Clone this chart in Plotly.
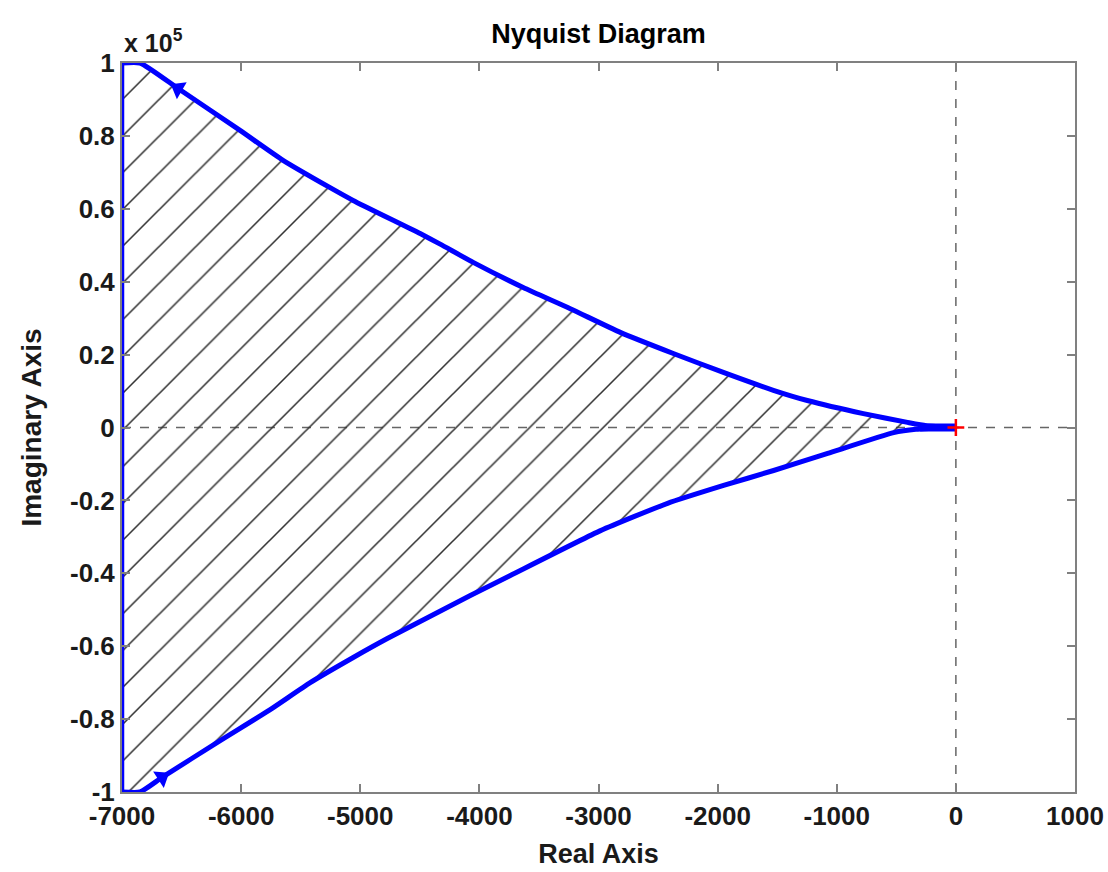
import plotly.graph_objects as go

# Upper branch (real, imaginary)
upper_re = [-7000, -6849, -6529, -6009, -5648, -5253, -5060, -4497, -4329, -4052, -3632, -3237,
            -2817, -2372, -1952, -1532, -1247, -776, -406, -250, 0]
upper_im = [100000, 100000, 93000, 81500, 73300, 65800, 62300, 53200, 50300, 45300, 38400, 32600,
            26100, 20300, 15100, 10200, 7400, 3800, 1400, 500, 0]
# Lower branch
lower_re = [-7000, -6849, -6664, -6176, -5756, -5420, -5059, -4773, -4076, -3740, -2983, -2420,
            -1950, -1530, -1076, -522, -336, 0]
lower_im = [-100000, -100000, -96000, -85900, -77400, -70000, -63100, -57900, -46100, -40600, -28300, -20800,
            -15900, -11800, -7100, -1400, -500, 0]

x_ticks = [-7000, -6000, -5000, -4000, -3000, -2000, -1000, 0, 1000]
x_tick_text = ["-7000", "-6000", "-5000", "-4000", "-3000", "-2000", "-1000", "0", "1000"]
y_ticks = [-100000, -80000, -60000, -40000, -20000, 0, 20000, 40000, 60000, 80000, 100000]
y_tick_text = ["-1", "-0.8", "-0.6", "-0.4", "-0.2", "0", "0.2", "0.4", "0.6", "0.8", "1"]

# Arrow markers
arrow_re = [-6529, -6664]
arrow_im = [93000, -96000]
arrow_angle = [-60, 57]

BLUE = "#0000FF"
FONT = "Liberation Sans"
TXT = "#1a1a1a"
SMOOTH = 0.5

fig = go.Figure()

# hatched region between the two branches
fig.add_trace(go.Scatter(x=lower_re, y=lower_im, mode="lines",
                         line=dict(width=0, color="rgba(0,0,0,0)", shape="spline", smoothing=SMOOTH),
                         hoverinfo="skip", showlegend=False))
fig.add_trace(go.Scatter(
    x=upper_re, y=upper_im, mode="lines", fill="tonexty",
    line=dict(width=0, color="rgba(0,0,0,0)", shape="spline", smoothing=SMOOTH),
    fillcolor="rgba(0,0,0,0)",
    fillpattern=dict(shape="/", size=26, solidity=0.06, fgcolor="#303030", fgopacity=1,
                     bgcolor="rgba(0,0,0,0)"),
    hoverinfo="skip", showlegend=False))

# zero dashed lines
fig.add_shape(type="line", x0=-7000, x1=1000, y0=0, y1=0, line=dict(color="#666666", width=1.5, dash="dash"), layer="below")
fig.add_shape(type="line", x0=0, x1=0, y0=-100000, y1=100000, line=dict(color="#666666", width=1.5, dash="dash"), layer="below")

# curves
fig.add_trace(go.Scatter(x=upper_re, y=upper_im, mode="lines",
                         line=dict(color=BLUE, width=5, shape="spline", smoothing=SMOOTH), showlegend=False))
fig.add_trace(go.Scatter(x=lower_re, y=lower_im, mode="lines",
                         line=dict(color=BLUE, width=5, shape="spline", smoothing=SMOOTH), showlegend=False))
# left border segment
fig.add_trace(go.Scatter(x=[-7000, -7000], y=[-100000, 100000], mode="lines", line=dict(color=BLUE, width=4.5), showlegend=False))
# thick convergence near origin
fig.add_trace(go.Scatter(x=[-300, 0], y=[0, 0], mode="lines", line=dict(color=BLUE, width=8), showlegend=False))
# arrows
fig.add_trace(go.Scatter(x=arrow_re, y=arrow_im, mode="markers",
                         marker=dict(symbol="triangle-up", size=17, color=BLUE, angle=arrow_angle),
                         showlegend=False))
# red origin marker
fig.add_trace(go.Scatter(x=[0], y=[0], mode="markers",
                         marker=dict(symbol="cross-thin", size=12, line=dict(color="red", width=2.5)),
                         showlegend=False))

axis_common = dict(showgrid=False, zeroline=False, showline=True, linecolor="#808080", linewidth=2,
                   mirror="ticks", ticks="inside", ticklen=8, tickcolor="#808080", tickwidth=1.5,
                   automargin=False,
                   tickfont=dict(family=FONT, size=26, color=TXT, weight="bold"))

fig.update_xaxes(range=[-7000, 1000], tickvals=x_ticks, ticktext=x_tick_text,
                 title=dict(text="Real Axis", font=dict(family=FONT, size=27, color=TXT, weight="bold"), standoff=14),
                 **axis_common)
fig.update_yaxes(range=[-100000, 100000], tickvals=y_ticks, ticktext=y_tick_text,
                 title=dict(text="Imaginary Axis", font=dict(family=FONT, size=28, color=TXT, weight="bold"), standoff=20),
                 **axis_common)

fig.update_layout(
    width=1108, height=872,
    margin=dict(l=122, r=33, t=63, b=80, autoexpand=False),
    paper_bgcolor="white", plot_bgcolor="white",
    title=dict(text="Nyquist Diagram", xref="paper", x=0.5, xanchor="center", y=0.962, yanchor="middle",
               font=dict(family=FONT, size=27, color="black", weight="bold")),
    annotations=[dict(text="x 10<sup>5</sup>", xref="paper", yref="paper", x=0.0, y=1.0,
                      xanchor="left", yanchor="bottom", yshift=4, showarrow=False,
                      font=dict(family=FONT, size=25, color=TXT, weight="bold"))],
)

fig.write_html("out.html")
